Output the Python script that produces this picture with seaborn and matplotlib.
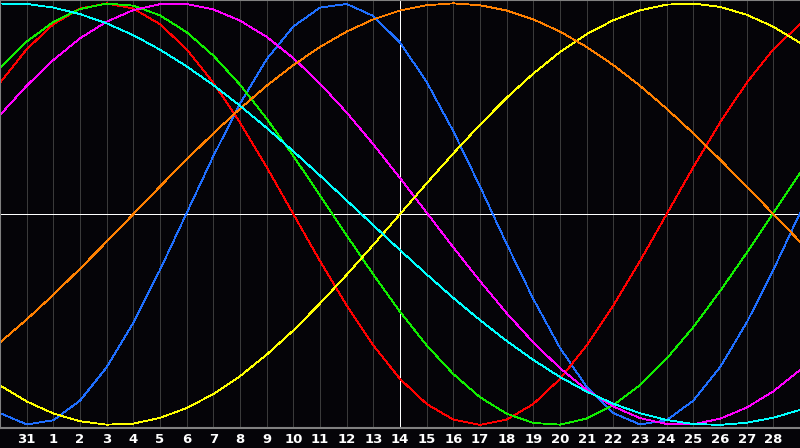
import numpy as np
import pandas as pd
import matplotlib
matplotlib.use("Agg")
import matplotlib.pyplot as plt
import seaborn as sns

# Day positions (0 = left edge of chart, 15 = today's marker)
days = list(range(0, 31))
tick_positions = list(range(1, 30))
tick_labels = ["31"] + [str(i) for i in range(1, 29)]

cycles = ["physical", "emotional", "intellectual", "intuitive", "aesthetic", "awareness", "spiritual"]
colors = ["#1f6fff", "#ff0000", "#11ee00", "#ff00ff", "#ffff00", "#ff8000", "#00ffff"]

physical = [-0.944, -0.998, -0.978, -0.885, -0.727, -0.515, -0.265, 0.005, 0.275, 0.524, 0.735, 0.890, 0.980, 0.997, 0.940, 0.814, 0.627, 0.393, 0.131, -0.142, -0.403, -0.635, -0.820, -0.944, -0.998, -0.978, -0.885, -0.727, -0.515, -0.265, 0.005]
emotional = [0.623, 0.782, 0.901, 0.975, 1.000, 0.975, 0.901, 0.782, 0.623, 0.434, 0.223, 0.000, -0.223, -0.434, -0.623, -0.782, -0.901, -0.975, -1.000, -0.975, -0.901, -0.782, -0.623, -0.434, -0.223, -0.000, 0.223, 0.434, 0.623, 0.782, 0.901]
intellectual = [0.694, 0.818, 0.912, 0.973, 0.999, 0.989, 0.943, 0.863, 0.752, 0.614, 0.453, 0.276, 0.089, -0.101, -0.287, -0.463, -0.623, -0.759, -0.869, -0.947, -0.991, -0.999, -0.970, -0.907, -0.811, -0.686, -0.536, -0.366, -0.184, 0.006, 0.195]
intuitive = [0.470, 0.609, 0.731, 0.834, 0.913, 0.968, 0.996, 0.997, 0.971, 0.918, 0.841, 0.740, 0.619, 0.482, 0.331, 0.171, 0.007, -0.158, -0.318, -0.470, -0.609, -0.731, -0.834, -0.913, -0.968, -0.996, -0.997, -0.971, -0.918, -0.841, -0.740]
aesthetic = [-0.813, -0.889, -0.946, -0.983, -0.999, -0.994, -0.967, -0.920, -0.854, -0.769, -0.667, -0.552, -0.424, -0.288, -0.146, 0.000, 0.146, 0.288, 0.424, 0.552, 0.667, 0.769, 0.854, 0.920, 0.967, 0.994, 0.999, 0.983, 0.946, 0.889, 0.813]
awareness = [-0.609, -0.500, -0.383, -0.259, -0.131, 0.000, 0.131, 0.259, 0.383, 0.500, 0.609, 0.707, 0.793, 0.866, 0.924, 0.966, 0.991, 1.000, 0.991, 0.966, 0.924, 0.866, 0.793, 0.707, 0.609, 0.500, 0.383, 0.259, 0.131, 0.000, -0.131]
spiritual = [0.999, 0.997, 0.980, 0.949, 0.905, 0.849, 0.780, 0.701, 0.612, 0.514, 0.409, 0.298, 0.183, 0.065, -0.053, -0.171, -0.286, -0.398, -0.503, -0.602, -0.692, -0.773, -0.842, -0.900, -0.945, -0.977, -0.996, -1.000, -0.990, -0.966, -0.929]

series = [physical, emotional, intellectual, intuitive, aesthetic, awareness, spiritual]
df = pd.concat(
    [pd.DataFrame({"cycle": name, "day": days, "value": vals}) for name, vals in zip(cycles, series)],
    ignore_index=True,
)

bg = "#050408"
sns.set_theme(style="dark", rc={"axes.facecolor": bg, "figure.facecolor": bg})
fig = plt.figure(figsize=(8, 4.48), dpi=100)
ax = fig.add_axes([0, 0.0446, 1, 0.955])

for d in tick_positions:
    ax.axvline(d, color="#3a3a3a", lw=0.6, zorder=0.5, antialiased=False)
ax.axvline(15, color="white", lw=0.6, zorder=0.6, antialiased=False)
ax.axhline(0, color="white", lw=0.6, zorder=0.6, antialiased=False)

sns.lineplot(data=df, x="day", y="value", hue="cycle", palette=dict(zip(cycles, colors)),
             hue_order=cycles, legend=False, lw=0.6, ax=ax, antialiased=False)

ax.set_xlim(0, 30)
ax.set_ylim(-1.015, 1.015)
ax.set_xticks(tick_positions)
ax.set_xticklabels(tick_labels, color="white", fontsize=9.5, fontweight="bold")
ax.set_yticks([])
ax.set_xlabel("")
ax.set_ylabel("")
ax.tick_params(axis="x", length=0, pad=3.5)
for s in ["left", "top", "bottom"]:
    ax.spines[s].set_visible(True)
    ax.spines[s].set_color("#808080")
    ax.spines[s].set_linewidth(1.5)
ax.spines["right"].set_visible(False)

plt.savefig("out.png", facecolor=fig.get_facecolor())
